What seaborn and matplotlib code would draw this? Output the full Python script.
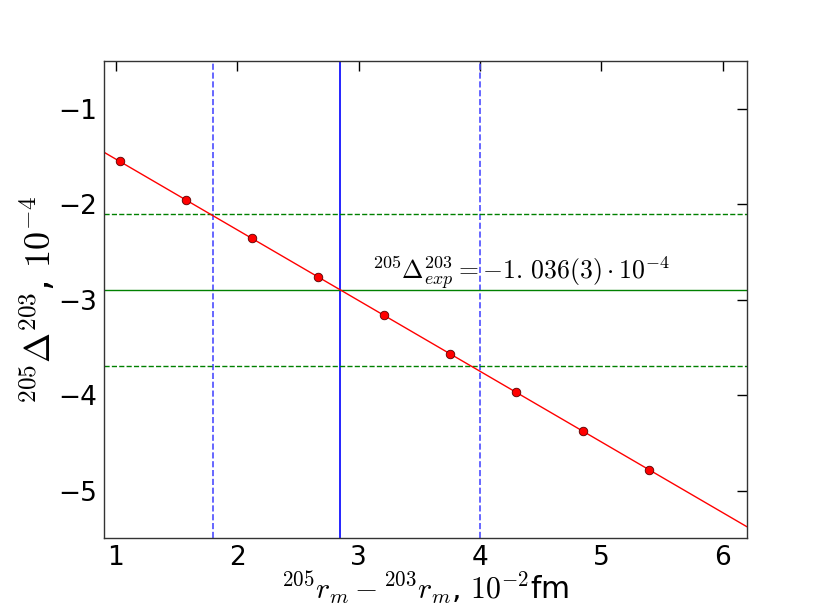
import numpy as np
import pandas as pd
import matplotlib
matplotlib.use('Agg')
import matplotlib.pyplot as plt
import seaborn as sns

# dados
r_diff = [1.03, 1.575, 2.12, 2.665, 3.21, 3.755, 4.30, 4.845, 5.39]
delta = [-1.551, -1.955, -2.358, -2.762, -3.165, -3.569, -3.972, -4.376, -4.779]
r_exp = [1.8, 2.85, 4.0]          # limite inferior, central, superior
delta_exp = [-2.1, -2.9, -3.7]    # superior, central, inferior
exp_text = r'$^{205}\Delta^{203}_{exp} = -1.\,036(3)\cdot 10^{-4}$'

df = pd.DataFrame({'r': r_diff, 'd': delta})

sns.set_style('white')
plt.rcParams['mathtext.fontset'] = 'cm'
plt.rcParams['font.family'] = ['DejaVu Sans']
plt.rcParams['text.color'] = 'black'
plt.rcParams['axes.labelcolor'] = 'black'
plt.rcParams['xtick.color'] = 'black'
plt.rcParams['ytick.color'] = 'black'

fig, ax = plt.subplots(figsize=(8.3, 6.09), dpi=100)
fig.subplots_adjust(left=0.125, right=0.9, top=0.9, bottom=0.116)
ax.set_xlim(0.9, 6.2)
ax.set_ylim(-5.5, -0.5)

# linhas experimentais
ax.axvline(r_exp[1], color='blue', lw=1.2)
ax.axvline(r_exp[0], color='#4d4dff', lw=1.2, ls='--')
ax.axvline(r_exp[2], color='#4d4dff', lw=1.2, ls='--')
ax.axhline(delta_exp[1], color='green', lw=1.0)
ax.axhline(delta_exp[0], color='green', lw=1.0, ls='--')
ax.axhline(delta_exp[2], color='green', lw=1.0, ls='--')

# ajuste linear + pontos
sns.regplot(x='r', y='d', data=df, ax=ax, ci=None, truncate=False, scatter=False,
            line_kws={'color': 'red', 'lw': 1.0})
sns.scatterplot(x='r', y='d', data=df, ax=ax, color='red', edgecolor='#550000',
                linewidth=0.6, s=38, zorder=5)

ax.text(3.11, -2.79, exp_text, fontsize=18.5, ha='left', va='baseline')

ax.set_xlabel(r'$^{205}r_m - ^{203}r_m$, $10^{-2}$fm', fontsize=21.5, labelpad=-1)
ax.set_ylabel(r'$^{205}\Delta^{203}$, $10^{-4}$', fontsize=26, labelpad=0)
ax.set_xticks([1, 2, 3, 4, 5, 6])
ax.set_yticks([-1, -2, -3, -4, -5])
ax.tick_params(direction='in', top=True, right=True, length=7, width=1,
               labelsize=19, pad=5)
for s in ax.spines.values():
    s.set_color('#333333')
    s.set_linewidth(1.0)

plt.savefig('out.png', dpi=100)
